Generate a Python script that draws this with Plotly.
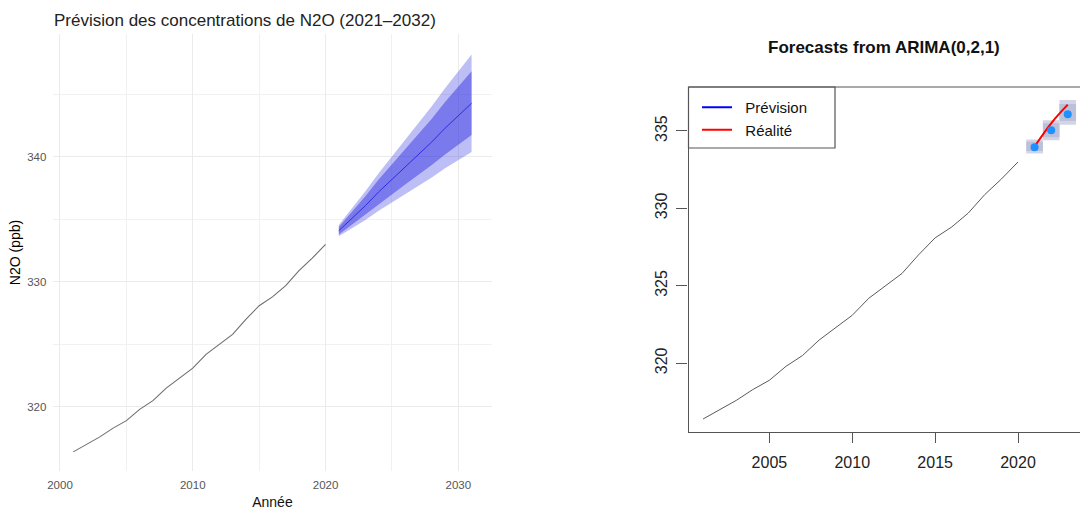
import plotly.graph_objects as go

FONT = "Liberation Sans, Arial, sans-serif"

# Annual mean atmospheric N2O concentration (ppb)
years_obs = list(range(2001, 2021))
n2o_obs = [316.4, 317.0, 317.6, 318.3, 318.9, 319.8, 320.5, 321.5, 322.3, 323.1,
           324.2, 325.0, 325.8, 327.0, 328.1, 328.8, 329.7, 330.9, 331.9, 333.0]

# Long-range forecast 2021-2031 with 80 % and 95 % intervals
years_fc = list(range(2021, 2032))
fc_mean = [334.1, 335.1, 336.1, 337.2, 338.2, 339.2, 340.2, 341.2, 342.3, 343.3, 344.3]
fc_lo80 = [333.8, 334.6, 335.35, 336.2, 337.0, 337.8, 338.6, 339.35, 340.2, 341.0, 341.75]
fc_hi80 = [334.4, 335.6, 336.85, 338.2, 339.4, 340.6, 341.8, 343.05, 344.4, 345.6, 346.85]
fc_lo95 = [333.65, 334.3, 334.95, 335.7, 336.35, 337.0, 337.7, 338.35, 339.1, 339.75, 340.4]
fc_hi95 = [334.55, 335.9, 337.25, 338.7, 340.05, 341.4, 342.7, 344.05, 345.5, 346.85, 348.2]

# Short-range ARIMA(0,2,1) forecast against observed values
years_short = [2021, 2022, 2023]
short_mean = [333.95, 335.05, 336.08]
short_lo95 = [333.55, 334.4, 335.4]
short_hi95 = [334.45, 335.7, 337.0]
short_lo80 = [333.7, 334.6, 335.65]
short_hi80 = [334.3, 335.5, 336.75]
short_real = [334.0, 335.5, 336.7]

fig = go.Figure()

# ---- left panel -------------------------------------------------------
fig.add_trace(go.Scatter(
    x=years_fc + years_fc[::-1], y=fc_hi95 + fc_lo95[::-1],
    fill="toself", fillcolor="rgba(40,40,225,0.30)", line=dict(width=0),
    mode="lines", showlegend=False, hoverinfo="skip", xaxis="x", yaxis="y"))
fig.add_trace(go.Scatter(
    x=years_fc + years_fc[::-1], y=fc_hi80 + fc_lo80[::-1],
    fill="toself", fillcolor="rgba(40,40,225,0.45)", line=dict(width=0),
    mode="lines", showlegend=False, hoverinfo="skip", xaxis="x", yaxis="y"))
fig.add_trace(go.Scatter(
    x=years_fc, y=fc_mean, mode="lines", line=dict(color="rgb(45,45,225)", width=1),
    showlegend=False, xaxis="x", yaxis="y"))
fig.add_trace(go.Scatter(
    x=years_obs, y=n2o_obs, mode="lines", line=dict(color="#6E6E6E", width=1.1),
    showlegend=False, xaxis="x", yaxis="y"))

# ---- right panel ------------------------------------------------------
fig.add_trace(go.Bar(
    x=years_short, base=short_lo95,
    y=[h - l for h, l in zip(short_hi95, short_lo95)],
    width=1, marker=dict(color="#D3D5E6", line=dict(width=0)),
    showlegend=False, hoverinfo="skip", xaxis="x2", yaxis="y2"))
fig.add_trace(go.Bar(
    x=years_short, base=short_lo80,
    y=[h - l for h, l in zip(short_hi80, short_lo80)],
    width=1, marker=dict(color="#BCC0D8", line=dict(width=0)),
    showlegend=False, hoverinfo="skip", xaxis="x2", yaxis="y2"))
fig.add_trace(go.Scatter(
    x=years_obs, y=n2o_obs, mode="lines", line=dict(color="#5A5A5A", width=1),
    showlegend=False, xaxis="x2", yaxis="y2"))
fig.add_trace(go.Scatter(
    x=years_short, y=short_real, mode="lines", line=dict(color="#FF0000", width=2, shape="spline"),
    showlegend=False, xaxis="x2", yaxis="y2"))
fig.add_trace(go.Scatter(
    x=years_short, y=short_mean, mode="markers",
    marker=dict(color="#1E90FF", size=8),
    showlegend=False, xaxis="x2", yaxis="y2"))
# legend entries
fig.add_trace(go.Scatter(x=[None], y=[None], mode="lines", name="\u00a0\u00a0Prévision",
                         line=dict(color="#0000FF", width=2), xaxis="x2", yaxis="y2"))
fig.add_trace(go.Scatter(x=[None], y=[None], mode="lines", name="\u00a0\u00a0Réalité",
                         line=dict(color="#FF0000", width=2), xaxis="x2", yaxis="y2"))

grid = "#EBEBEB"
R_DOM_X = [0.6375, 1.0]
R_DOM_Y = [0.1552, 0.8297]

fig.update_layout(
    width=1080, height=511,
    margin=dict(l=0, r=0, t=0, b=0, autoexpand=False),
    paper_bgcolor="white", plot_bgcolor="white",
    font=dict(family=FONT),
    barmode="overlay",
    xaxis=dict(
        domain=[0.0494, 0.4551], range=[1999.5, 2032.5], automargin=False,
        tickvals=[2000, 2010, 2020, 2030], ticks="", showline=False, zeroline=False,
        showgrid=True, gridcolor=grid, gridwidth=1,
        minor=dict(tickvals=[2005, 2015, 2025], showgrid=True, gridcolor="#F1F1F1", gridwidth=1),
        tickfont=dict(size=11.5, color="#555555"), ticklabelstandoff=6,
        title=dict(text="Année", font=dict(size=14, color="#111111"), standoff=7),
    ),
    yaxis=dict(
        domain=[0.079, 0.9325], range=[314.9, 349.8], automargin=False,
        tickvals=[320, 330, 340], ticks="", showline=False, zeroline=False,
        showgrid=True, gridcolor=grid, gridwidth=1,
        minor=dict(tickvals=[325, 335, 345], showgrid=True, gridcolor="#F1F1F1", gridwidth=1),
        tickfont=dict(size=11.5, color="#555555"), ticklabelstandoff=6,
        title=dict(text="N2O (ppb)", font=dict(size=14, color="#000000"), standoff=3),
    ),
    xaxis2=dict(
        domain=R_DOM_X, range=[2000.12, 2023.74], anchor="y2", automargin=False,
        tickvals=[2005, 2010, 2015, 2020], ticks="outside", ticklen=10, tickcolor="#555555",
        showline=True, linecolor="#555555", linewidth=1.2, showgrid=False, zeroline=False,
        tickfont=dict(size=16, color="#222222"), ticklabelstandoff=6,
    ),
    yaxis2=dict(
        domain=R_DOM_Y, range=[315.58, 337.84], anchor="x2", automargin=False,
        tickvals=[320, 325, 330, 335], ticks="outside", ticklen=11, tickcolor="#555555",
        showline=True, linecolor="#555555", linewidth=1.2, showgrid=False, zeroline=False,
        tickangle=-90, tickfont=dict(size=16, color="#222222"), ticklabelstandoff=3,
    ),
    legend=dict(
        x=697 / 1080, y=(511 - 91) / 511, xanchor="left", yanchor="top",
        bgcolor="rgba(0,0,0,0)", borderwidth=0,
        font=dict(size=15, color="#111111"), tracegroupgap=0,
    ),
    shapes=[
        # top border of the right panel
        dict(type="line", xref="paper", yref="paper",
             x0=R_DOM_X[0], x1=1.0, y0=R_DOM_Y[1], y1=R_DOM_Y[1],
             line=dict(color="#555555", width=1.2)),
        # legend frame
        dict(type="rect", xref="paper", yref="paper",
             x0=R_DOM_X[0], x1=835 / 1080, y0=(511 - 148) / 511, y1=R_DOM_Y[1],
             line=dict(color="#555555", width=1.2), fillcolor="white", layer="below"),
    ],
    annotations=[
        dict(text="Prévision des concentrations de N2O (2021–2032)",
             xref="paper", yref="paper", x=52 / 1080, y=(511 - 20) / 511,
             xanchor="left", yanchor="middle", showarrow=False,
             font=dict(size=17, color="#222222")),
        dict(text="<b>Forecasts from ARIMA(0,2,1)</b>",
             xref="paper", yref="paper", x=884 / 1080, y=(511 - 47) / 511,
             xanchor="center", yanchor="middle", showarrow=False,
             font=dict(size=17, color="#111111")),
    ],
)

fig.write_html("out.html")
